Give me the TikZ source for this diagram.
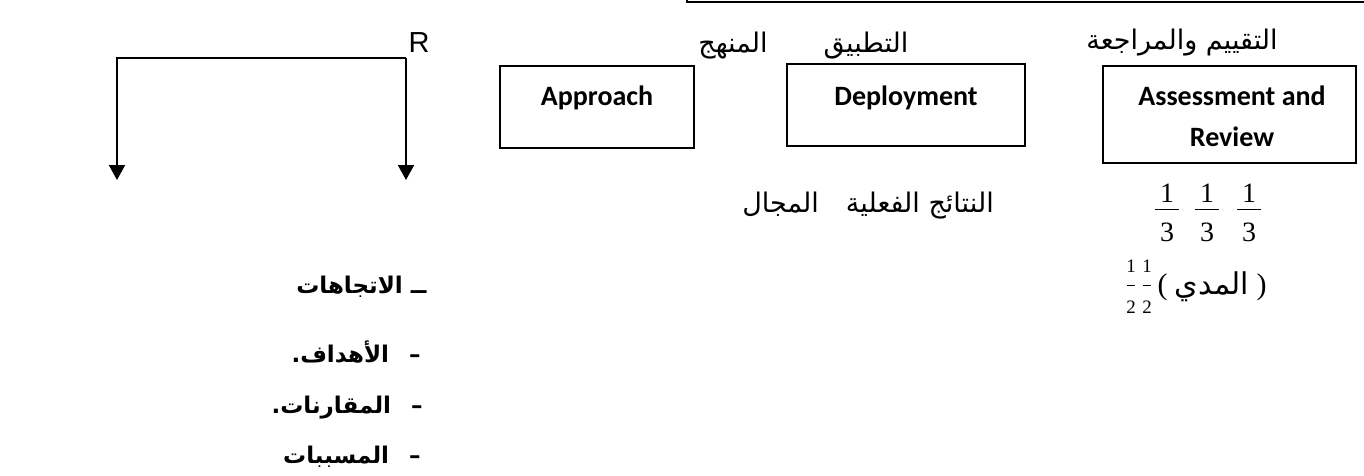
\documentclass[tikz,border=0pt]{standalone}
\usepackage{fontspec}
\usetikzlibrary{arrows.meta}
\TeXXeTstate=1
\setmainfont{Liberation Serif}
\newfontfamily\arabicfont[Script=Arabic]{DejaVu Sans}
\newfontfamily\boxfont{Carlito}
\newfontfamily\labelfont{Liberation Sans}

\tikzset{
  box/.style={draw, line width=1.1pt, rectangle, inner sep=0pt},
  eng/.style={font=\boxfont\bfseries\fontsize{14}{17}\selectfont, inner sep=0pt, anchor=base},
  arlabel/.style={font=\arabicfont\fontsize{13.5}{16}\selectfont, inner sep=0pt, anchor=base},
  arbold/.style={font=\arabicfont\bfseries\fontsize{11.5}{14}\selectfont, inner sep=0pt, anchor=base east},
  link/.style={line width=1pt, line join=miter},
  arrowlink/.style={link, -{Triangle[width=8pt,length=7.5pt]}},
  num/.style={font=\fontsize{14}{16}\selectfont, inner sep=0pt, anchor=base},
  smallnum/.style={font=\fontsize{9.5}{11}\selectfont, inner sep=0pt, anchor=base},
  fracbar/.style={line width=0.5pt},
}

\begin{document}
\begin{tikzpicture}[x=0.5pt, y=-0.5pt]
\useasboundingbox (0,0) rectangle (1364,476);

% frame above, only its lower edge is in view
\draw[link] (687,-20) rectangle (1420,2);

% branching connector under R
\node[font=\labelfont\fontsize{14.5}{17}\selectfont, inner sep=0pt, anchor=base] (r) at (419,53) {R};
\coordinate (rtop) at (406,58);
\coordinate (lend) at (117,180);
\coordinate (rend) at (406,180);
\draw[arrowlink] (rtop) -| (lend);
\draw[arrowlink] (rtop) -- (rend);

% the three boxes
\node[box, minimum width=97pt, minimum height=41pt] (appr) at (597,107) {};
\node[box, minimum width=119pt, minimum height=41pt] (depl) at (906,105) {};
\node[box, minimum width=126.5pt, minimum height=48.5pt] (assess) at (1229.5,114.5) {};
\node[eng] (apprtext) at (597,105) {Approach};
\node[eng] (depltext) at (906,105) {Deployment};
\node[eng] (assesstext) at (1232,105) {Assessment and};
\node[eng] (reviewtext) at (1232,147) {Review};

% Arabic captions above the boxes
\node[arlabel] (manhaj) at (733,53) {\beginR المنهج\endR};
\node[arlabel] (tatbiq) at (866,53) {\beginR التطبيق\endR};
\node[arlabel] (taqyim) at (1182,50) {\beginR التقييم والمراجعة\endR};

% second row
\node[arlabel] (results) at (868,212) {\beginR النتائج الفعلية\quad المجال\endR};

% three thirds
\foreach \i/\x in {1/1167,2/1207,3/1249} {
  \node[num] (num\i) at (\x,202) {1};
  \node[num] (den\i) at (\x,241) {3};
  \draw[fracbar] (\x-12,209) -- (\x+12,209);
}

% range with two halves
\node[font=\fontsize{15}{18}\selectfont, inner sep=0pt, anchor=base] (range) at (1212,294) {( {\arabicfont\beginR المدي\endR} )};
\foreach \i/\x in {1/1131,2/1147} {
  \node[smallnum] (hn\i) at (\x,272) {1};
  \node[smallnum] (hd\i) at (\x,313) {2};
  \draw[fracbar] (\x-4,285) -- (\x+4,285);
}

% bold list on the left
\node[arbold] (trends) at (427,293) {\beginR ــ الاتجاهات\endR};
\node[arbold] (goals) at (421,362) {\beginR –\hspace{10pt}الأهداف.\endR};
\node[arbold] (comp) at (423,413) {\beginR –\hspace{10pt}المقارنات.\endR};
\node[arbold] (causes) at (421,463) {\beginR –\hspace{10pt}المسببات\endR};
\end{tikzpicture}
\end{document}
